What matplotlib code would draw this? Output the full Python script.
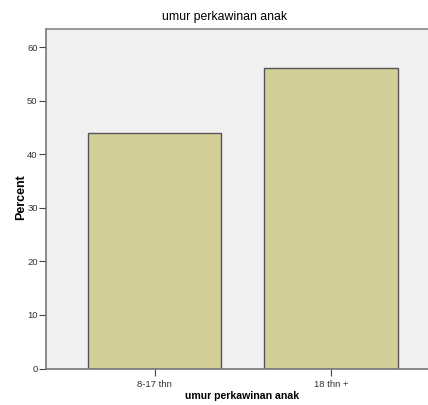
import matplotlib.pyplot as plt

categories = ['8-17 thn', '18 thn +']
percent = [43.9, 56.1]
yticks = [0, 10, 20, 30, 40, 50, 60]

plt.rcParams['font.family'] = ['Liberation Sans', 'DejaVu Sans']
narrow = ['Liberation Sans Narrow', 'Liberation Sans', 'DejaVu Sans']

W, H = 428, 405
fig = plt.figure(figsize=(W / 100, H / 100), dpi=100)
# axes runs past the right edge, as in the cropped original
left, right, top, bottom = 46, 439.5, 29, 368.5
ax = fig.add_axes([left / W, 1 - bottom / H, (right - left) / W, (bottom - top) / H])
ax.set_facecolor('#f0f0f0')

x = range(len(categories))
ax.bar(x, percent, width=0.756, color='#d3cf98', edgecolor='#555555', linewidth=1.0)

ax.set_xlim(-0.615, 1.615)
ax.set_ylim(0, 63.4)
ax.set_yticks(yticks)
ax.set_xticks(list(x))
ax.set_xticklabels(categories, fontsize=6.8, family=narrow)
ax.set_yticklabels([str(t) for t in yticks], fontsize=6.8, color='#333333', family=narrow)
ax.tick_params(axis='both', length=5, width=0.8, color='#444444', pad=1)
ax.tick_params(axis='x', labelcolor='#333333', pad=3)

for s in ax.spines.values():
    s.set_color('#888888')
    s.set_linewidth(1.2)
ax.spines['left'].set_color('#777777')
ax.spines['bottom'].set_color('#777777')

fig.text(21 / W, 1 - 197 / H, 'Percent', ha='center', va='center', rotation=90,
         fontsize=9, fontweight='bold')
fig.text(225 / W, 1 - 17 / H, 'umur perkawinan anak', ha='center', va='center', fontsize=8.8)
fig.text(242.5 / W, 1 - 396 / H, 'umur perkawinan anak', ha='center', va='center',
         fontsize=7.6, fontweight='bold')

fig.savefig('out.png', dpi=100)
